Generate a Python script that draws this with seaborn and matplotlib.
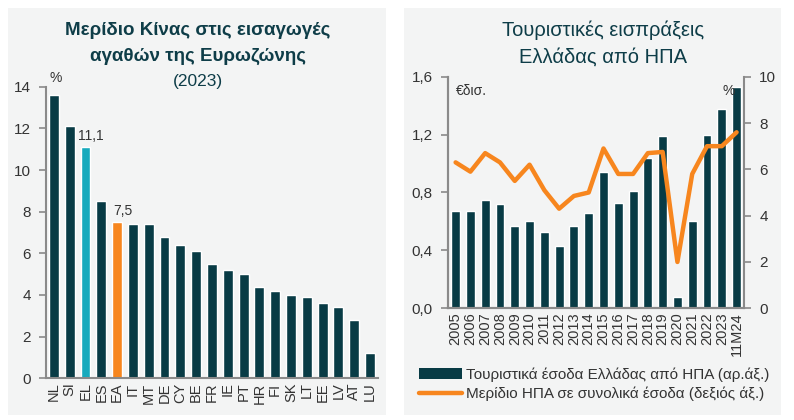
import numpy as np
import pandas as pd
import matplotlib
matplotlib.use("Agg")
import matplotlib.pyplot as plt
from matplotlib.patches import Rectangle, Patch
from matplotlib.lines import Line2D
from matplotlib.ticker import FuncFormatter
import seaborn as sns

# data - left chart (share of China in euro area goods imports, 2023)
countries = ["NL", "SI", "EL", "ES", "EA", "IT", "MT", "DE", "CY", "BE", "FR",
             "IE", "PT", "HR", "FI", "SK", "LT", "EE", "LV", "AT", "LU"]
china_share = [13.6, 12.1, 11.1, 8.5, 7.5, 7.4, 7.4, 6.8, 6.4, 6.1, 5.5,
               5.2, 5.0, 4.4, 4.2, 4.0, 3.9, 3.6, 3.4, 2.8, 1.2]
labeled = ["EL", "EA"]

# data - right chart (tourism receipts from USA)
periods = ["2005", "2006", "2007", "2008", "2009", "2010", "2011", "2012", "2013",
           "2014", "2015", "2016", "2017", "2018", "2019", "2020", "2021", "2022",
           "2023", "11M24"]
receipts = [0.67, 0.67, 0.75, 0.72, 0.57, 0.60, 0.53, 0.43, 0.57, 0.66, 0.94,
            0.73, 0.81, 1.04, 1.19, 0.08, 0.60, 1.20, 1.38, 1.53]
usa_share = [6.3, 5.9, 6.7, 6.3, 5.5, 6.2, 5.1, 4.3, 4.85, 5.0, 6.9,
             5.8, 5.8, 6.7, 6.75, 2.0, 5.8, 7.0, 7.0, 7.6]

dark = "#083b45"
cyan = "#17aabd"
orange = "#f7861e"
title_col = "#0e3d48"
txt = "#333333"
spine_col = "#8a8a8a"
panel_bg = "#f3f4f4"

sns.set_theme(style="white")
plt.rcParams["font.family"] = ["Liberation Sans", "DejaVu Sans"]

comma1 = FuncFormatter(lambda v, p: f"{v:.1f}".replace(".", ","))

fig = plt.figure(figsize=(7.94, 4.2), dpi=100)
fig.patch.set_facecolor("white")

# panel backgrounds
fig.patches.append(Rectangle((0.010, 0.013), 0.4767, 0.968, transform=fig.transFigure,
                             facecolor=panel_bg, edgecolor="none", zorder=-10))
fig.patches.append(Rectangle((0.5088, 0.013), 0.4748, 0.968, transform=fig.transFigure,
                             facecolor=panel_bg, edgecolor="none", zorder=-10))

# ---------------- left chart ----------------
ax = fig.add_axes([0.0579, 0.0993, 0.418, 0.6943])
ax.set_facecolor("none")
bar_cols = [cyan if c == "EL" else orange if c == "EA" else dark for c in countries]
df1 = pd.DataFrame({"country": countries, "share": china_share})
sns.barplot(data=df1, x="country", y="share", hue="country", palette=bar_cols,
            legend=False, width=0.63, saturation=1, ax=ax)
ax.set_xlim(-0.5, len(countries) - 0.5)
ax.set_ylim(0, 14)
ax.set_yticks(range(0, 15, 2))
ax.set_xlabel("")
ax.set_ylabel("")
ax.tick_params(axis="y", direction="out", length=5, width=1.2, color=spine_col,
               labelsize=11, labelcolor=txt, left=True, pad=6)
ax.tick_params(axis="x", length=0, labelsize=10.5, labelcolor=txt, rotation=90, pad=3)
for s in ["top", "right"]:
    ax.spines[s].set_visible(False)
for s in ["left", "bottom"]:
    ax.spines[s].set_color(spine_col)
    ax.spines[s].set_linewidth(1.5)
for i, (c, v) in enumerate(zip(countries, china_share)):
    if c in labeled:
        ax.annotate(f"{v:.1f}".replace(".", ","), xy=(i, v), xytext=(4, 3),
                    textcoords="offset points", ha="center", va="bottom",
                    fontsize=10, color=txt)
ax.text(0.03, 1.005, "%", transform=ax.transAxes, ha="center", va="bottom",
        fontsize=10, color=txt)

fig.text(0.249, 0.928, "Μερίδιο Κίνας στις εισαγωγές", ha="center", va="center",
         fontsize=13.5, fontweight="bold", color=title_col)
fig.text(0.250, 0.865, "αγαθών της Ευρωζώνης", ha="center", va="center",
         fontsize=13.5, fontweight="bold", color=title_col)
fig.text(0.249, 0.805, "(2023)", ha="center", va="center",
         fontsize=12.5, color=title_col)

# ---------------- right chart ----------------
ax2 = fig.add_axes([0.5645, 0.266, 0.3725, 0.5514])
ax2.set_facecolor("none")
df2 = pd.DataFrame({"period": periods, "receipts": receipts, "share": usa_share,
                    "pos": np.arange(len(periods))})
sns.barplot(data=df2, x="period", y="receipts", color=dark, width=0.6,
            saturation=1, ax=ax2)
ax2.set_xlim(-0.5, len(periods) - 0.5)
ax2.set_ylim(0, 1.6)
ax2.set_yticks(np.arange(0, 1.61, 0.4))
ax2.yaxis.set_major_formatter(comma1)
ax2.set_xlabel("")
ax2.set_ylabel("")
ax2.tick_params(axis="y", direction="out", length=5, width=1.2, color=spine_col,
                labelsize=11, labelcolor=txt, left=True, pad=6)
ax2.tick_params(axis="x", length=0, labelsize=10.5, labelcolor=txt, rotation=90, pad=3)

ax3 = ax2.twinx()
sns.lineplot(data=df2, x="pos", y="share", color=orange, linewidth=3.2, ax=ax3)
ax3.set_ylim(0, 10)
ax3.set_yticks(range(0, 11, 2))
ax3.set_xlim(-0.5, len(periods) - 0.5)
ax3.set_ylabel("")
ax3.set_xlabel("")
ax3.tick_params(axis="y", direction="out", length=5, width=1.2, color=spine_col,
                labelsize=11, labelcolor=txt, right=True, pad=6)
for a in (ax2, ax3):
    a.spines["top"].set_visible(False)
    for s in ["left", "right", "bottom"]:
        a.spines[s].set_color(spine_col)
        a.spines[s].set_linewidth(1.5)
ax2.spines["right"].set_visible(False)

ax2.text(0.025, 0.97, "€δισ.", transform=ax2.transAxes, ha="left", va="top",
         fontsize=10, color=txt)
ax2.text(0.97, 0.97, "%", transform=ax2.transAxes, ha="right", va="top",
         fontsize=10, color=txt)

fig.text(0.760, 0.928, "Τουριστικές εισπράξεις", ha="center", va="center",
         fontsize=14.5, color=title_col)
fig.text(0.760, 0.865, "Ελλάδας από ΗΠΑ", ha="center", va="center",
         fontsize=14.5, color=title_col)

handles = [Patch(facecolor=dark, edgecolor="none"),
           Line2D([0], [0], color=orange, linewidth=3.2)]
labels = ["Τουριστικά έσοδα Ελλάδας από ΗΠΑ (αρ.άξ.)",
          "Μερίδιο ΗΠΑ σε συνολικά έσοδα (δεξιός άξ.)"]
fig.legend(handles, labels, loc="upper left", bbox_to_anchor=(0.528, 0.125),
           frameon=False, fontsize=11, handlelength=2.8, handletextpad=0.25,
           labelspacing=0.3, borderaxespad=0, borderpad=0, labelcolor=txt)

fig.savefig("out.png", dpi=100)
